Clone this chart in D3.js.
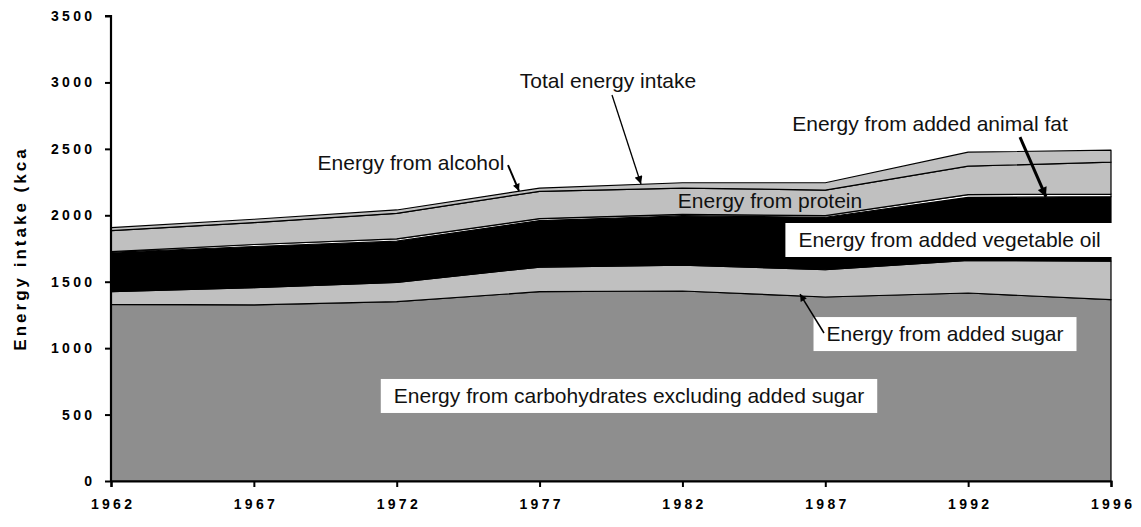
<!DOCTYPE html>
<html lang="en">
<head>
<meta charset="utf-8">
<title>Energy intake 1962-1996</title>
<script src="https://d3js.org/d3.v7.min.js"></script>
<style>
  body { margin: 0; background: #fff; }
  svg { display: block; font-family: "Liberation Sans", Arial, sans-serif; }
  .note { font-size: 21px; fill: #111; }
</style>
</head>
<body>
<svg id="chart" width="1141" height="527"></svg>
<script>
// --- data (kcal per person per day) ---
var years     = ["1962", "1967", "1972", "1977", "1982", "1987", "1992", "1996"];
var carbs     = [1330, 1325, 1350, 1425, 1430, 1385, 1415, 1365];
var sugar     = [  95,  130,  145,  185,  195,  205,  245,  290];
var vegOil    = [ 295,  310,  310,  350,  370,  395,  475,  485];
var animalFat = [   6,   15,   17,   15,   12,   12,   20,   20];
var protein   = [ 159,  165,  193,  205,  198,  193,  215,  240];
var alcohol   = [  22,   25,   25,   25,   40,   55,  105,   90];
var yTicks    = [0, 500, 1000, 1500, 2000, 2500, 3000, 3500];

var seriesNames = ["carbs", "sugar", "vegOil", "animalFat", "protein", "alcohol"];
var seriesFill  = { carbs: "#8e8e8e", sugar: "#c0c0c0", vegOil: "#000", animalFat: "#fff", protein: "#c0c0c0", alcohol: "#c0c0c0" };

var rows = years.map(function(yr, i) {
  return { i: i, carbs: carbs[i], sugar: sugar[i], vegOil: vegOil[i], animalFat: animalFat[i], protein: protein[i], alcohol: alcohol[i] };
});

// labels, placed in data units (x = position along the year index)
var notes = [
  { text: "Energy from carbohydrates excluding added sugar", x: 3.626, v: 640, box: true },
  { text: "Energy from added sugar", x: 5.838, v: 1106, box: true },
  { text: "Energy from added vegetable oil", x: 5.87, v: 1814, box: true },
  { text: "Energy from protein", x: 4.613, v: 2107 },
  { text: "Energy from added animal fat", x: 5.733, v: 2690 },
  { text: "Total energy intake", x: 3.479, v: 3011 },
  { text: "Energy from alcohol", x: 2.10, v: 2394 }
];
var arrows = [
  { x1: 4.991, v1: 1114, x2: 4.823, v2: 1407, w: 1.5, head: 9 },
  { x1: 6.363, v1: 2589, x2: 6.545, v2: 2138, w: 3, head: 12 },
  { x1: 3.507, v1: 2905, x2: 3.710, v2: 2235, w: 1.3, head: 10 },
  { x1: 2.779, v1: 2378, x2: 2.856, v2: 2183, w: 2, head: 9 }
];

var margin = { top: 16, right: 30, bottom: 46, left: 111 };
var svg = d3.select("#chart");
var W = +svg.attr("width"), H = +svg.attr("height");

var x = d3.scaleLinear().domain([0, years.length - 1]).range([margin.left, W - margin.right]);
var y = d3.scaleLinear().domain([0, 3500]).range([H - margin.bottom, margin.top]);

var stack = d3.stack().keys(seriesNames);
var layers = stack(rows);

var area = d3.area()
  .x(function(d) { return x(d.data.i); })
  .y0(function(d) { return y(d[0]); })
  .y1(function(d) { return y(d[1]); });

svg.append("g").selectAll("path")
  .data(layers)
  .enter().append("path")
    .attr("d", area)
    .attr("fill", function(d) { return seriesFill[d.key]; })
    .attr("stroke", "#000")
    .attr("stroke-width", 1.2)
    .attr("stroke-linejoin", "round");

// axes
var yAxis = d3.axisLeft(y).tickValues(yTicks).tickSize(6).tickPadding(13).tickFormat(d3.format("d"));
var gy = svg.append("g")
  .attr("transform", "translate(" + margin.left + ",0)")
  .call(yAxis);
gy.selectAll("text").attr("dx", "3.3px");

var xAxis = d3.axisBottom(x).tickValues(d3.range(years.length)).tickSize(6).tickPadding(12)
  .tickFormat(function(i) { return years[i]; });
var gx = svg.append("g")
  .attr("transform", "translate(0," + y(0) + ")")
  .call(xAxis);
gx.selectAll("text").attr("dx", "1.6px");

[gx, gy].forEach(function(g) {
  g.select(".domain").attr("stroke", "#000").attr("stroke-width", 2.2);
  g.selectAll(".tick line").attr("stroke", "#000").attr("stroke-width", 2);
  g.selectAll(".tick text")
    .style("font-family", "'Liberation Sans', Arial, sans-serif")
    .style("font-weight", "bold")
    .style("font-size", "14px")
    .style("letter-spacing", "3.3px")
    .attr("fill", "#000");
});
gy.select(".domain").attr("d", "M-6," + y(3500) + "H0V" + y(0));

svg.append("text")
  .attr("transform", "translate(26," + ((y(0) + y(3500)) / 2) + ") rotate(-90)")
  .attr("text-anchor", "middle")
  .style("font-weight", "bold")
  .style("font-size", "17px")
  .style("letter-spacing", "3px")
  .text("Energy intake (kca");

// labels
var gn = svg.append("g");
notes.forEach(function(n) {
  var g = gn.append("g");
  var t = g.append("text")
    .attr("class", "note")
    .attr("x", x(n.x)).attr("y", y(n.v))
    .attr("text-anchor", "middle")
    .attr("dy", "0.35em")
    .text(n.text);
  if (n.box) {
    var b = t.node().getBBox();
    g.insert("rect", "text")
      .attr("x", b.x - 13).attr("y", y(n.v) - 17)
      .attr("width", b.width + 26).attr("height", 34)
      .attr("fill", "#fff");
  }
});

// arrows (on top of the label boxes)
var defs = svg.append("defs");
var ga = svg.append("g");
arrows.forEach(function(a, k) {
  var id = "head" + k;
  defs.append("marker")
    .attr("id", id)
    .attr("viewBox", "0 0 10 10")
    .attr("refX", 10).attr("refY", 5)
    .attr("markerUnits", "userSpaceOnUse")
    .attr("markerWidth", a.head).attr("markerHeight", a.head * 0.8)
    .attr("orient", "auto")
    .append("path").attr("d", "M0,0L10,5L0,10Z").attr("fill", "#000");
  ga.append("line")
    .attr("x1", x(a.x1)).attr("y1", y(a.v1))
    .attr("x2", x(a.x2)).attr("y2", y(a.v2))
    .attr("stroke", "#000").attr("stroke-width", a.w)
    .attr("marker-end", "url(#" + id + ")");
});
</script>
</body>
</html>
